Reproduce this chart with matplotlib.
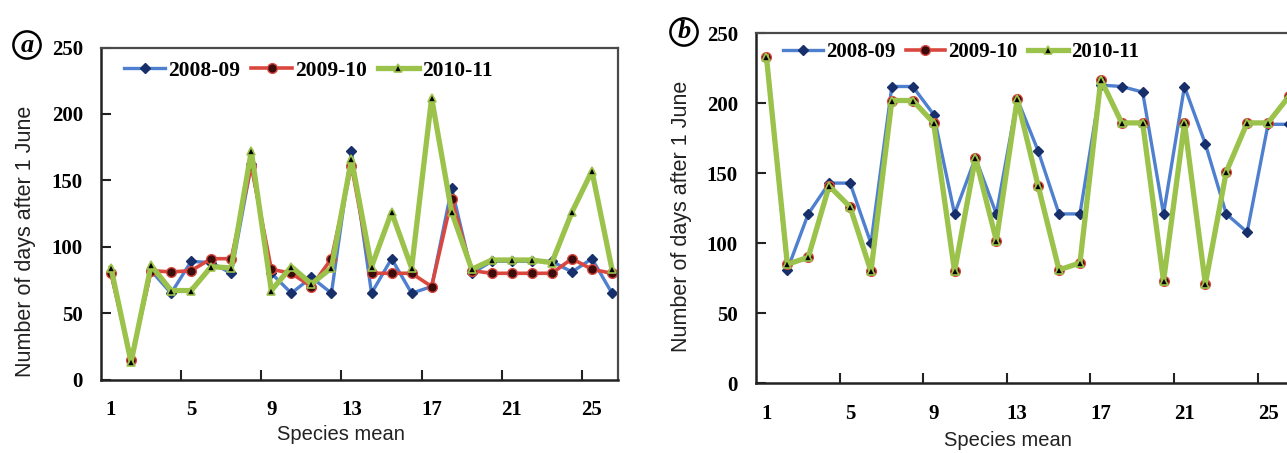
"""
plot.py - flowering date per species, three seasons, two sites.
"""

import matplotlib
matplotlib.use('Agg')
import matplotlib.pyplot as plt

# Species index (x axis) and tick labels.
species = list(range(1, 27))
tick_species = [1, 5, 9, 13, 17, 21, 25]
seasons = ['2008-09', '2009-10', '2010-11']

# Panel (a): days after 1 June.
a_0809 = [80, 15, 82, 65, 89, 88, 80, 162, 80, 65, 77, 65, 172,
          65, 91, 65, 70, 144, 80, 89, 89, 89, 89, 81, 91, 65]
a_0910 = [80, 15, 82, 81, 82, 91, 91, 161, 83, 80, 70, 91, 161,
          80, 80, 80, 70, 136, 82, 80, 80, 80, 80, 91, 83, 80]
a_1011 = [84, 13, 86, 67, 67, 85, 84, 172, 67, 85, 72, 84, 166,
          85, 126, 84, 212, 126, 83, 90, 90, 90, 88, 126, 157, 83]

# Panel (b): days after 1 June.
b_0809 = [233, 81, 121, 143, 143, 100, 212, 212, 192, 121, 161, 121, 203,
          166, 121, 121, 213, 212, 208, 121, 212, 171, 121, 108, 185, 185]
b_0910 = [233, 85, 90, 141, 126, 80, 202, 202, 186, 80, 161, 102, 203,
          141, 81, 86, 217, 186, 186, 73, 186, 71, 151, 186, 186, 205]
b_1011 = [233, 85, 90, 141, 126, 80, 202, 202, 186, 80, 161, 102, 203,
          141, 81, 86, 217, 186, 186, 73, 186, 71, 151, 186, 186, 205]

W, H = 1287, 453
styles = [
    dict(color='#4F7FCF', lw=2.4, marker='D', ms=5,
         mfc='#17306b', mec='#17306b'),
    dict(color='#D9473F', lw=2.6, marker='o', ms=7,
         mfc='#3a0c0c', mec='#D9473F'),
    dict(color='#9BC24A', lw=3.8, marker='^', ms=5.5,
         mfc='black', mec='#9BC24A', mew=1.2),
]
tick_font = dict(family='Liberation Serif', weight='bold', size=15)


def px_box(left, top, right, bottom):
    """Convert pixel box to figure fraction rect."""
    return [left / W, 1 - bottom / H, (right - left) / W, (bottom - top) / H]


def draw_panel(ax, series, xmax, leg_anchor, leg_size):
    for vals, name, st in zip(series, seasons, styles):
        ax.plot(species, vals, label=name, **st)

    ax.set_xlim(0.5, xmax)
    ax.set_ylim(0, 250)
    ax.set_yticks([0, 50, 100, 150, 200, 250])
    ax.set_xticks([4.5, 8.5, 12.5, 16.5, 20.5, 24.5])
    ax.set_xticks(tick_species, minor=True)
    ax.set_xticklabels([str(s) for s in tick_species], minor=True,
                       fontdict=tick_font)
    ax.set_xticklabels([], minor=False)
    ax.set_yticklabels([str(v) for v in range(0, 251, 50)], fontdict=tick_font)
    ax.tick_params(axis='both', which='major', direction='in', length=7,
                   width=1.5, color='#222222')
    ax.tick_params(axis='y', pad=13)
    ax.tick_params(axis='x', which='minor', length=0, pad=15)

    for side in ['left', 'bottom']:
        ax.spines[side].set_linewidth(1.8)
        ax.spines[side].set_color('#222222')
    for side in ['top', 'right']:
        ax.spines[side].set_linewidth(1.6)
        ax.spines[side].set_color('#4a4a4a')

    ax.legend(loc='upper left', bbox_to_anchor=leg_anchor, ncol=3,
              frameon=False, borderpad=0, borderaxespad=0,
              handlelength=1.9, handletextpad=0.15, columnspacing=0.5,
              prop=dict(family='Liberation Serif', weight='bold',
                        size=leg_size))


fig = plt.figure(figsize=(W / 100, H / 100), dpi=100)

ax_a = fig.add_axes(px_box(101, 47.6, 618, 379.5))
draw_panel(ax_a, [a_0809, a_0910, a_1011], 26.3, (0.045, 0.96), 15.5)

ax_b = fig.add_axes(px_box(756, 33.3, 1299.4, 383.3))
draw_panel(ax_b, [b_0809, b_0910, b_1011], 26.5, (0.05, 0.975), 15)

label_font = dict(family='Liberation Sans', size=15.5, color='#222222')
fig.text(26 / W, 1 - 241 / H, 'Number of days after 1 June', rotation=90,
         ha='center', va='center', **label_font)
fig.text(682 / W, 1 - 216 / H, 'Number of days after 1 June', rotation=90,
         ha='center', va='center', **label_font)
fig.text(341 / W, 1 - 434 / H, 'Species mean', ha='center', va='center',
         family='Liberation Sans', size=14.5, color='#222222')
fig.text(1008 / W, 1 - 441 / H, 'Species mean', ha='center', va='center',
         family='Liberation Sans', size=14.5, color='#222222')

# Circled panel letters.
for letter, cx, cy in [('a', 27, 45), ('b', 684, 32)]:
    fig.text(cx / W, 1 - cy / H, letter, ha='center', va='center',
             family='Liberation Serif', style='italic', weight='bold',
             size=19,
             bbox=dict(boxstyle='circle,pad=0.08', fc='white', ec='black',
                       lw=1.8))

fig.savefig('out.png', dpi=100)
